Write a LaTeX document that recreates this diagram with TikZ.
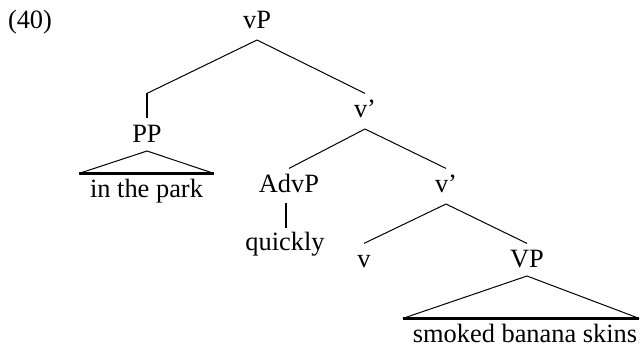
\documentclass[tikz,border=0pt]{standalone}
\usepackage{fontspec}
\setmainfont{Liberation Serif}
\usetikzlibrary{calc}

\begin{document}
\begin{tikzpicture}[
        x=0.5pt, y=-0.5pt,
        every node/.style={inner sep=0pt, outer sep=0pt, anchor=base, font=\fontsize{13.2}{15}\selectfont},
        cat/.style={text height=8.8pt, text depth=0pt},
        branch/.style={line width=0.5pt},
        unary/.style={line width=1.1pt},
        roof/.style={line width=0.5pt},
        roofbase/.style={line width=1.5pt}
    ]

        \useasboundingbox (0,0) rectangle (642,349);

        \node (exnum) at (30,28) {(40)};

        % categories
        \node[cat] (vP) at (257,28) {vP};
        \node[cat] (PP) at (147,142) {PP};
        \node[cat] (vbarA) at (365,117) {v’};
        \node[cat] (AdvP) at (289,192) {AdvP};
        \node[cat] (vbarB) at (446,192) {v’};
        \node[cat] (v) at (364,267) {v};
        \node[cat] (VP) at (527,267) {VP};

        % words
        \node[cat] (park) at (146.5,197) {in the park};
        \node[cat] (quick) at (285,250) {quickly};
        \node[cat] (skins) at (525,342) {smoked banana skins};

        % branches
        \coordinate (vbarAtop) at ([yshift=3pt]vbarA.north);
        \coordinate (PPtop) at ([yshift=3pt]PP.north);
        \draw[branch] ([yshift=-6pt]vP.south) -- (vbarAtop);
        \draw[branch] ([yshift=-6pt]vP.south) -- (PPtop |- vbarAtop);
        \draw[unary] (PPtop |- vbarAtop) -- (PPtop);
        \draw[branch] ([yshift=-6pt]vbarA.south) -- ([yshift=3pt]AdvP.north);
        \draw[branch] ([yshift=-6pt]vbarA.south) -- ([yshift=3pt]vbarB.north);
        \draw[unary] ([xshift=-1.5pt,yshift=-5.5pt]AdvP.south) -- ([xshift=-1.5pt,yshift=2.2pt]AdvP.south |- quick.north);
        \draw[branch] ([yshift=-6pt]vbarB.south) -- ([yshift=3pt]v.north);
        \draw[branch] ([yshift=-6pt]vbarB.south) -- ([yshift=3pt]VP.north);

        % roofs
        \draw[roof] ([xshift=-5.5pt,yshift=3pt]park.north west) -- ([yshift=-4.5pt]PP.south) -- ([xshift=5.5pt,yshift=3pt]park.north east);
        \draw[roofbase] ([xshift=-5.5pt,yshift=3pt]park.north west) -- ([xshift=5.5pt,yshift=3pt]park.north east);
        \draw[roof] ([xshift=-5pt,yshift=3pt]skins.north west) -- ([yshift=-4.5pt]VP.south) -- ([xshift=1pt,yshift=3pt]skins.north east);
        \draw[roofbase] ([xshift=-5pt,yshift=3pt]skins.north west) -- ([xshift=1pt,yshift=3pt]skins.north east);

    \end{tikzpicture}
\end{document}
